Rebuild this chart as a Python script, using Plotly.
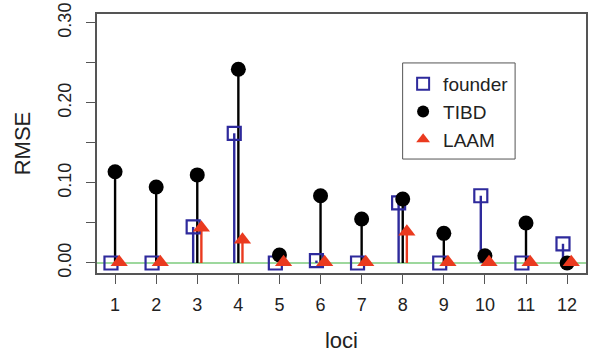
import plotly.graph_objects as go

loci = list(range(1, 13))
founder = [0.0, 0.0, 0.045, 0.162, 0.0, 0.003, 0.0, 0.075, 0.0, 0.084, 0.0, 0.024]
tibd = [0.114, 0.095, 0.110, 0.242, 0.010, 0.084, 0.055, 0.080, 0.037, 0.009, 0.050, 0.0]
laam = [0.001, 0.001, 0.044, 0.029, 0.001, 0.001, 0.001, 0.039, 0.001, 0.001, 0.001, 0.001]

ytick_vals = [0.0, 0.05, 0.10, 0.15, 0.20, 0.25, 0.30]
ytick_text = ["0.00", "", "0.10", "", "0.20", "", "0.30"]

BLUE = "#2e2a9c"
BLACK = "#000000"
RED = "#ea3a1f"
GREEN = "#7dcb7d"
FONT = "Liberation Sans, Arial, sans-serif"

series = [
    ("founder", founder, -0.1, BLUE, dict(symbol="square-open", size=13, line=dict(width=2.2, color=BLUE))),
    ("TIBD", tibd, 0.0, BLACK, dict(symbol="circle", size=15)),
    ("LAAM", laam, 0.1, RED, dict(symbol="triangle-up", size=15)),
]

fig = go.Figure()
fig.add_trace(go.Scatter(x=[0.5, 12.5], y=[0, 0], mode="lines",
                         line=dict(color=GREEN, width=1.5), showlegend=False, hoverinfo="skip"))

for name, vals, off, col, mk in series:
    xs, ys = [], []
    for l, v in zip(loci, vals):
        xs += [l + off, l + off, None]
        ys += [0, v, None]
    fig.add_trace(go.Scatter(x=xs, y=ys, mode="lines", line=dict(color=col, width=2.4),
                             showlegend=False, hoverinfo="skip"))

for name, vals, off, col, mk in series:
    fig.add_trace(go.Scatter(x=[l + off for l in loci], y=vals, mode="markers",
                             marker=dict(color=col, **mk), name=name))

# legend frame (R-style box)
fig.add_shape(type="rect", xref="paper", yref="paper",
              x0=0.625, x1=0.855, y0=0.440, y1=0.811,
              line=dict(color="#555555", width=1), fillcolor="rgba(0,0,0,0)", layer="above")

fig.update_layout(
    width=589, height=356,
    margin=dict(l=97, r=1, t=14, b=83),
    plot_bgcolor="white", paper_bgcolor="white",
    font=dict(family=FONT, size=18, color="#222222"),
    showlegend=True,
    legend=dict(x=0.626, y=0.803, xanchor="left", yanchor="top",
                borderwidth=0, bgcolor="rgba(0,0,0,0)",
                font=dict(size=19), itemsizing="constant", tracegroupgap=0,
                itemwidth=30),
    xaxis=dict(range=[0.56, 12.46], tickvals=loci, ticktext=[str(l) for l in loci],
               ticks="outside", ticklen=9, tickwidth=1.2, tickcolor="#555555",
               showline=True, mirror=True, linecolor="#555555", linewidth=1.5,
               showgrid=False, zeroline=False, ticklabelstandoff=6,
               title=dict(text="loci", standoff=18), tickfont=dict(size=18)),
    yaxis=dict(range=[-0.0125, 0.311], tickvals=ytick_vals, ticktext=ytick_text,
               ticks="outside", ticklen=9, tickwidth=1.2, tickcolor="#555555",
               showline=True, mirror=True, linecolor="#555555", linewidth=1.5,
               showgrid=False, zeroline=False, tickangle=-90, ticklabelstandoff=8,
               title=dict(text="RMSE", standoff=18), tickfont=dict(size=18)),
)

fig.write_html("out.html")
